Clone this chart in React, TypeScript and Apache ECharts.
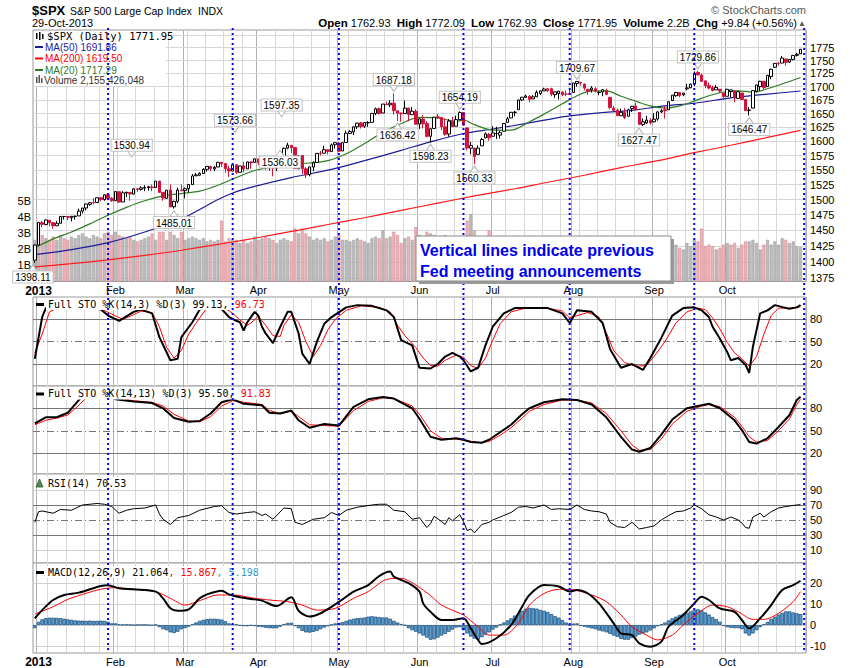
import { useEffect, useRef } from "react";
import * as echarts from "echarts";

// ---------- categories (trading days) ----------
const dec2012 = [31];
const janDays = [2,3,4,7,8,9,10,11,14,15,16,17,18,22,23,24,25,28,29,30,31];
const febDays = [1,4,5,6,7,8,11,12,13,14,15,19,20,21,22,25,26,27,28];
const marDays = [1,4,5,6,7,8,11,12,13,14,15,18,19,20,21,22,25,26,27,28];
const aprDays = [1,2,3,4,5,8,9,10,11,12,15,16,17,18,19,22,23,24,25,26,29,30];
const mayDays = [1,2,3,6,7,8,9,10,13,14,15,16,17,20,21,22,23,24,28,29,30,31];
const junDays = [3,4,5,6,7,10,11,12,13,14,17,18,19,20,21,24,25,26,27,28];
const julDays = [1,2,3,5,8,9,10,11,12,15,16,17,18,19,22,23,24,25,26,29,30,31];
const augDays = [1,2,5,6,7,8,9,12,13,14,15,16,19,20,21,22,23,26,27,28,29,30];
const sepDays = [3,4,5,6,9,10,11,12,13,16,17,18,19,20,23,24,25,26,27,30];
const octDays = [1,2,3,4,7,8,9,10,11,14,15,16,17,18,21,22,23,24,25,28,29,30];
const monthNames = ["Jan","Feb","Mar","Apr","May","Jun","Jul","Aug","Sep","Oct","Nov","Dec"];
const fedIdx = [20, 54, 83, 117, 146, 180, 210];

// ---------- price data ----------
const closes = [1426.19,1462.42,1459.37,1466.47,1461.89,1457.15,1461.02,1472.12,1472.05,1470.68,1472.34,1472.63,1480.94,1485.98,1492.56,1494.81,1494.82,1502.96,1500.18,1507.84,1501.96,1498.11,
1513.17,1495.71,1511.29,1512.12,1509.39,1517.93,1517.01,1519.43,1520.33,1521.38,1519.79,1530.94,1511.95,1502.42,1515.60,1487.85,1496.94,1515.99,1514.68,
1518.20,1525.20,1539.79,1541.46,1544.26,1551.18,1556.22,1552.48,1554.52,1563.23,1560.70,1552.10,1548.34,1558.71,1545.80,1556.89,1551.69,1563.77,1562.85,1569.19,
1562.17,1570.25,1553.69,1559.98,1553.28,1563.07,1568.61,1587.73,1593.37,1588.85,1552.36,1574.57,1552.01,1541.61,1555.25,1562.50,1578.78,1578.79,1585.16,1582.24,1593.61,1597.57,
1582.70,1597.59,1614.42,1617.50,1625.96,1632.69,1626.67,1633.70,1633.77,1650.34,1658.78,1650.47,1667.47,1666.29,1669.16,1655.35,1650.51,1649.60,1660.06,1648.36,1654.41,1630.74,
1640.42,1631.38,1608.90,1622.56,1643.38,1642.81,1626.13,1612.52,1636.36,1626.73,1639.04,1651.81,1628.93,1588.19,1592.43,1573.09,1588.03,1603.26,1613.20,1606.28,
1614.96,1614.08,1615.41,1631.89,1640.46,1652.32,1652.62,1675.02,1680.19,1682.50,1676.26,1680.91,1689.37,1692.09,1695.53,1692.39,1685.94,1690.25,1691.65,1685.33,1685.96,1685.73,
1706.87,1709.67,1707.14,1697.37,1690.91,1697.48,1691.42,1689.47,1694.16,1685.39,1661.32,1655.83,1646.06,1652.35,1642.80,1656.96,1663.50,1656.78,1630.48,1634.96,1638.17,1632.97,
1639.77,1653.08,1655.08,1655.17,1671.71,1683.99,1689.13,1683.42,1687.99,1697.60,1704.76,1725.52,1722.34,1709.91,1701.84,1697.42,1692.77,1698.67,1691.75,1681.55,
1695.00,1693.87,1678.66,1690.50,1676.12,1655.45,1656.40,1692.56,1703.20,1710.14,1698.06,1721.54,1733.15,1744.50,1744.66,1754.67,1746.38,1752.07,1759.77,1762.11,1771.95];
const opens = [1402.43,1426.19,1462,1459,1466,1462,1457,1461,1472,1472,1470,1472,1473,1481,1486,1492,1495,1495,1503,1500,1508,1502,
1498,1513,1496,1511,1512,1509,1518,1517,1519,1520,1521,1520,1531,1512,1502,1516,1488,1497,1516,
1515,1518,1525,1540,1541,1544,1551,1556,1552,1555,1563,1561,1552,1548,1559,1546,1557,1552,1564,1563,
1569,1562,1570,1554,1560,1553,1563,1569,1588,1593,1589,1552,1575,1552,1542,1555,1563,1579,1579,1585,1582,1594,
1597,1583,1598,1614,1617,1626,1633,1627,1633,1634,1650,1659,1651,1667,1666,1669,1655,1651,1650,1660,1648,1654,
1631,1640,1632,1609,1623,1644,1643,1626,1613,1636,1627,1639,1652,1624,1588,1588,1577,1592,1606,1612,
1609,1614,1611,1618,1634,1642,1652,1657,1675,1680,1682,1677,1681,1687,1692,1696,1696,1685,1687,1690,1686,1687,
1689,1706,1708,1705,1695,1694,1696,1689,1690,1693,1680,1660,1656,1646,1652,1645,1659,1664,1652,1630,1633,1638,
1635,1640,1653,1657,1657,1674,1683,1689,1685,1696,1698,1705,1727,1722,1711,1702,1698,1694,1695,1688,
1682,1691,1692,1678,1688,1676,1656,1660,1691,1700,1710,1700,1719,1737,1745,1745,1753,1747,1752,1760,1762.93];
const highs = [1427,1462.43,1465,1467,1466.5,1462.5,1465,1473,1473,1473,1473,1473.5,1485,1486,1493,1496,1502,1503,1504,1509,1510,1504,
1514,1513.5,1514,1513,1512,1519,1519,1522,1524,1523,1525,1530.94,1531,1512,1516,1525,1498,1520,1525,
1520,1526,1543,1545,1546,1553,1556.5,1557,1557,1563.5,1564,1561,1557,1561,1559,1557,1564,1564,1564,1570,
1570,1573.66,1571,1562,1560,1563.5,1573,1589,1597.35,1593.5,1589,1575,1575,1555,1555.5,1565,1579,1583,1592,1585.5,1596,1598,
1598,1598,1619,1620,1626.5,1633,1635,1634,1636,1651,1661,1661,1667.5,1672,1675,1687.18,1655.5,1651.5,1674,1660.5,1662,1658,
1641,1647,1636,1623,1644,1649,1643,1641,1640,1644,1646,1654.19,1652.5,1624,1599,1588.5,1593,1606,1616,1615,
1627,1626,1619,1632,1644,1653,1655,1676,1680.5,1685,1684,1684,1693,1692.5,1698,1696.5,1698,1691,1692,1690.5,1693,1698,
1707,1709.67,1709,1705.5,1696,1701,1699,1691,1696,1696,1680,1664,1659,1659,1660,1659,1664,1670,1652.5,1641,1646,1641,
1651,1654,1658,1664,1672,1684,1690,1690,1688,1705,1706,1729,1729.86,1725,1711,1708,1702,1703,1695.5,1688.5,
1696,1694,1692.5,1691,1688.5,1677,1662,1693,1704,1711,1711,1721.5,1734,1745,1747,1759,1753.5,1753,1760,1765,1772.09];
const lows = [1398.11,1426,1455,1458,1456,1452,1457,1461,1467,1466,1464,1467,1473,1477,1482,1490,1492,1495,1497,1498,1499,1496,
1498,1495,1496,1504,1498,1509,1513,1515,1514,1515,1514,1520,1511,1498,1502,1487.5,1485.01,1494,1514,
1502,1512,1525,1540,1540,1544,1547,1548,1548,1555,1555,1545,1538,1548,1543,1546,1546,1552,1552,1563,
1558,1562,1550,1549,1539,1548,1556,1569,1586,1579,1552,1552,1543,1536.03,1539,1548,1563,1575,1579,1577,1582,1587,
1581,1583,1598,1613,1611,1622,1623,1624,1626,1634,1647,1648,1651,1666,1662,1648,1636.42,1635,1650,1636,1648,1630,
1622,1623,1607,1598.23,1623,1640,1620,1610,1608,1625,1627,1639,1628,1584,1577,1560.33,1577,1592,1606,1601,
1609,1604,1605,1618,1634,1642,1645,1657,1673,1679,1671,1677,1681,1684,1692,1690,1682,1679,1676,1682,1682,1685,
1689,1700,1702,1693,1685,1689,1689,1684,1682,1684,1658,1654,1646,1646,1640,1645,1653,1656,1629,1627.47,1631,1630,
1634,1637,1651,1641,1657,1674,1681,1680,1682,1693,1697,1701,1721,1709,1697,1695,1691,1694,1688,1675,
1682,1680,1671,1677,1675,1655,1646.47,1660,1689,1692,1695,1700,1714,1736,1740,1745,1740,1745,1750,1758,1762.93];
// volume, billions
const volumes = [2.6,3.2,2.9,2.7,2.6,2.8,2.6,2.9,2.7,2.6,2.8,2.7,2.9,3.0,2.8,2.7,2.9,2.8,2.7,3.0,3.1,2.9,
3.1,2.9,2.8,2.7,2.8,2.6,2.5,2.6,2.7,2.8,3.0,2.6,3.1,3.1,2.6,3.1,2.9,2.7,3.1,
2.6,2.7,2.8,2.7,2.6,2.7,2.5,2.6,2.5,2.6,3.8,2.5,2.7,2.6,2.6,2.4,2.6,2.4,2.5,2.8,
2.6,2.7,2.8,2.7,2.6,2.4,2.6,2.7,2.6,2.5,3.3,3.0,3.2,3.0,2.8,2.6,2.7,2.6,2.7,2.5,2.6,2.8,
2.9,2.6,2.6,2.5,2.6,2.7,2.6,2.5,2.4,2.7,2.8,2.7,3.2,2.7,2.8,3.1,2.9,2.4,2.7,2.8,2.6,3.4,
2.9,2.8,3.1,3.0,2.9,2.6,2.8,2.9,2.8,2.7,2.7,2.8,2.8,3.8,4.2,3.2,2.8,2.7,2.6,3.2,
2.3,2.5,1.7,2.0,2.5,2.3,2.4,2.5,2.3,2.2,2.3,2.4,2.4,2.5,2.2,2.4,2.5,2.4,2.3,2.2,2.4,2.6,
2.5,2.2,1.9,2.2,2.3,2.2,2.0,1.9,2.0,2.0,2.4,2.5,2.2,2.3,2.4,2.0,1.8,1.9,2.4,2.1,1.8,2.1,
2.4,2.3,2.0,2.1,2.1,2.6,2.3,2.1,2.0,2.4,2.2,2.6,2.5,3.3,2.2,2.3,2.2,2.0,2.1,2.3,
2.4,2.3,2.4,2.1,2.3,2.5,2.5,2.6,2.4,2.0,2.3,2.6,2.3,2.5,2.3,2.7,2.6,2.4,2.5,2.2,2.155];

// ---------- indicator readings [bar index, value] ----------
const ma200 = [[0,1392],[10,1397],[20,1403],[30,1410],[40,1418],[54,1431],[60,1437],[72,1450],[80,1459],[90,1470],[100,1482],[110,1494],[120,1506],[131,1518],[140,1529],[150,1541],[160,1554],[170,1566],[180,1580],[190,1593],[200,1607],[209,1619.5]];
const ma50 = [[0,1411],[10,1419],[20,1430],[30,1447],[40,1468],[50,1500],[54,1511],[60,1522],[70,1537],[81,1551],[90,1566],[100,1584],[108,1599],[117,1614],[125,1622],[135,1633],[145,1645],[155,1652],[163,1656],[172,1664],[180,1669],[190,1679],[200,1686],[209,1691.86]];
const ma20 = [[0,1422],[5,1436],[10,1447],[15,1460],[20,1474],[25,1487],[30,1498],[35,1506],[40,1510],[45,1514],[50,1524],[55,1537],[60,1549],[65,1556],[70,1561],[75,1562],[80,1566],[85,1578],[90,1596],[95,1616],[100,1632],[105,1643],[110,1642],[115,1636],[117,1638],[120,1630],[125,1620],[130,1620],[135,1635],[139,1649],[144,1668],[148,1683],[152,1692],[156,1692],[160,1682],[164,1673],[168,1664],[172,1660],[176,1664],[180,1673],[184,1683],[188,1690],[192,1692],[196,1690],[200,1696],[204,1705],[209,1717.29]];
const sto1K = [[0,27],[2,83],[3,95],[6,99],[10,96],[14,97],[18,93],[20,85],[23,78],[24,81],[27,90],[29,93],[32,88],[34,56],[37,25],[39,27],[40,56],[43,76],[45,93],[47,98],[50,99],[53,83],[55,78],[56,76],[57,65],[58,76],[60,90],[61,85],[62,70],[63,61],[65,48],[67,70],[69,90],[70,90],[72,61],[73,34],[75,20],[77,50],[79,74],[81,83],[85,96],[88,99],[92,98],[96,92],[98,83],[100,52],[103,45],[105,15],[108,14],[110,20],[112,30],[114,35],[116,30],[117,25],[119,10],[121,15],[123,45],[125,70],[128,88],[131,95],[135,95],[140,95],[144,88],[146,75],[148,92],[152,90],[155,75],[157,40],[160,15],[163,20],[166,12],[168,28],[171,55],[174,85],[177,95],[180,96],[182,92],[184,83],[185,70],[187,54],[189,36],[190,25],[192,28],[194,19],[195,8],[196,43],[198,88],[200,92],[202,99],[206,94],[208,96],[209,99.13]];
const sto1D = [[0,35],[2,60],[4,90],[7,97],[12,97],[18,94],[21,87],[24,80],[26,84],[29,91],[32,89],[34,70],[36,42],[38,28],[40,38],[42,60],[45,82],[47,95],[51,98],[54,88],[56,79],[58,72],[59,75],[61,84],[63,72],[65,58],[67,57],[68,72],[70,86],[72,76],[74,50],[76,30],[78,45],[80,66],[82,80],[85,92],[89,98],[94,96],[97,90],[99,72],[101,58],[104,42],[106,28],[108,18],[110,17],[112,25],[115,32],[117,29],[119,18],[121,14],[123,28],[125,52],[127,74],[130,90],[134,95],[140,95],[144,91],[146,82],[148,85],[151,89],[154,83],[156,62],[158,38],[161,22],[164,17],[167,18],[169,30],[172,50],[175,75],[178,90],[181,95],[183,93],[185,82],[187,67],[189,49],[191,35],[193,27],[195,17],[197,30],[199,60],[201,85],[203,95],[206,95],[209,96.73]];
const sto2K = [[0,60],[3,68],[6,68],[9,74],[12,91],[13,97],[16,99],[20,99],[22,92],[27,89],[32,87],[35,80],[38,67],[42,62],[45,63],[48,73],[51,88],[54,92],[57,86],[62,84],[64,74],[67,73],[70,77],[72,64],[75,54],[79,59],[83,57],[87,82],[91,92],[95,95],[98,93],[103,80],[105,66],[108,42],[111,38],[115,40],[117,38],[119,35],[122,34],[124,38],[127,48],[130,58],[133,72],[135,80],[139,88],[144,92],[148,91],[152,85],[156,68],[160,42],[163,25],[165,22],[168,27],[171,45],[174,65],[178,80],[182,84],[184,86],[187,80],[191,64],[193,51],[195,35],[197,33],[200,40],[203,55],[206,71],[208,91],[209,95.5]];
const sto2D = [[0,58],[3,64],[6,67],[9,71],[12,84],[14,94],[17,98],[22,95],[27,90],[32,88],[35,83],[38,72],[42,63],[45,62],[48,69],[51,83],[54,90],[57,88],[62,85],[64,77],[67,73],[70,76],[72,69],[75,58],[79,57],[83,56],[87,77],[91,89],[95,94],[98,93],[103,83],[105,72],[108,50],[111,40],[115,39],[119,36],[122,34],[124,36],[127,44],[130,54],[133,67],[135,76],[139,85],[144,91],[148,91],[152,87],[156,73],[160,50],[163,31],[165,24],[168,25],[171,39],[174,59],[178,76],[182,83],[184,85],[187,82],[191,68],[193,56],[195,42],[197,35],[200,37],[203,50],[206,66],[208,85],[209,91.83]];
const rsi14 = [[0,47],[1,61],[2,62],[5,59],[7,64],[10,63],[13,70],[17,72],[19,71],[21,68],[23,59],[25,63],[27,65],[30,66],[33,70],[34,58],[35,51],[37,44],[39,53],[42,56],[45,63],[49,68],[51,69],[53,60],[55,58],[58,60],[60,61],[62,56],[63,58],[65,51],[68,66],[70,65],[71,47],[73,44],[76,51],[79,53],[81,60],[83,56],[85,63],[88,67],[92,70],[94,71],[96,71],[98,63],[101,61],[103,51],[105,53],[107,40],[108,45],[109,55],[111,48],[112,44],[113,53],[114,49],[116,57],[117,48],[118,36],[119,38],[120,33],[122,44],[124,47],[125,50],[128,56],[130,60],[132,67],[134,68],[136,66],[139,70],[141,64],[143,65],[146,64],[148,70],[150,64],[152,62],[154,61],[156,58],[157,47],[159,41],[161,40],[163,47],[165,38],[167,40],[169,42],[171,50],[173,56],[175,61],[177,62],[179,66],[180,70],[182,65],[184,57],[186,54],[188,50],[190,54],[192,50],[193,46],[194,40],[195,39],[196,54],[198,59],[199,54],[201,61],[203,66],[205,68],[208,70],[209,70.53]];
const macdLine = [[0,3.2],[2,7.1],[5,11.9],[8,14.3],[12,15.4],[18,18.6],[20,18.9],[23,17.5],[27,17],[33,15.9],[35,12.7],[37,8],[39,6.8],[42,7.5],[45,12.7],[47,14.6],[51,16.3],[53,14.6],[56,13.2],[60,12.2],[62,11.6],[66,9],[70,13.2],[72,6.8],[75,4],[78,5.6],[82,9.8],[84,12.2],[87,15.9],[91,19],[94,23.3],[97,25.4],[98,23],[102,19.9],[105,15.9],[106,10.3],[108,6.3],[111,2.4],[114,2.4],[117,3.2],[119,-1.6],[121,-7.1],[122,-9],[126,-6.3],[130,0],[133,8.7],[135,14.3],[139,19],[143,18.3],[146,15.9],[148,16.7],[151,15],[154,10.3],[158,0.8],[160,-4],[163,-4.8],[165,-8.7],[168,-10.3],[171,-7.9],[173,-0.8],[177,4.8],[180,10.3],[182,13.5],[184,11.9],[187,7.9],[191,6.3],[193,2.4],[195,-1.6],[198,3.2],[201,9.5],[204,16.7],[207,19],[209,21.064]];
const macdSignal = [[0,5.2],[5,8.7],[9,12.2],[14,15.1],[18,17],[22,17.8],[27,17],[33,15.9],[37,12.7],[41,9.5],[45,11.6],[50,14.3],[54,14.3],[60,12.7],[64,11.9],[69,11.1],[73,9.5],[77,7.1],[82,7.9],[87,12.7],[91,15.9],[96,21.7],[100,22.2],[104,19],[108,14],[111,9.5],[115,6.3],[117,4.8],[121,-0.8],[124,-4.8],[128,-4.8],[132,0.8],[135,9.5],[139,15],[143,17],[147,16.7],[152,14.3],[156,11.1],[160,4.8],[163,-0.8],[167,-4.8],[170,-7.1],[174,-4.8],[177,0],[181,5.6],[185,9.5],[189,8.7],[192,6.3],[196,2.7],[199,2.7],[203,5.6],[207,11.1],[209,15.867]];
const macdHist = [-1.5,1.5,2.7,3.3,3.5,3.5,3.4,3.3,3.0,2.7,2.5,2.2,2.1,2.1,2.0,2.1,2.0,2.0,2.1,2.0,
1.6,0.8,0.8,0.2,0.1,0.2,0.1,-0.1,0.1,0.0,0.1,0.0,-0.2,0.1,-1.0,-2.0,-2.5,-3.5,-3.8,-3.2,
-2.0,-1.5,-0.8,0.5,1.2,2.0,2.5,2.8,3.0,3.0,2.9,2.6,1.8,0.8,0.5,0.3,-0.3,-0.5,-0.6,-0.3,
-0.5,-0.8,-1.0,-1.3,-1.5,-1.6,-1.5,-0.8,0.5,1.0,1.1,-0.5,-1.5,-2.8,-3.5,-3.6,-3.3,-2.8,-2.0,-1.2,
-0.6,0.2,0.8,1.0,1.4,2.0,2.6,3.0,3.3,3.4,3.6,4.0,4.2,4.0,3.8,3.6,3.6,3.0,2.0,1.2,
0.5,-0.2,-1.5,-2.5,-3.2,-4.0,-5.0,-6.0,-7.0,-6.8,-6.0,-5.0,-4.2,-3.2,-2.2,-1.2,-1.0,-2.5,-4.0,-5.5,
-6.5,-7.0,-5.8,-4.6,-3.5,-2.2,-1.2,0.2,1.2,2.2,3.2,4.5,5.5,6.8,7.8,8.2,8.0,7.8,7.2,6.8,
6.2,5.2,4.2,3.5,2.4,1.2,0.0,0.7,0.8,-0.4,-0.8,-1.2,-1.6,-2.0,-2.6,-3.0,-3.5,-4.2,-5.0,-5.6,
-6.6,-7.0,-7.0,-6.2,-5.5,-4.6,-4.0,-3.5,-2.6,-1.6,-0.6,0.4,1.2,2.2,3.2,4.0,4.8,5.4,5.8,6.5,
7.2,7.5,7.0,6.0,5.0,3.8,2.8,1.6,-0.5,-1.0,-1.4,-1.5,-1.5,-2.0,-4.0,-5.0,-4.0,-2.5,-1.0,0.5,
1.5,3.0,4.0,5.0,5.8,6.5,6.5,6.0,5.6,5.198];

// ---------- annotations: [bar index, price, label dx, label dy] ----------
const highNotes = [[33,1530.94,-24,-22],[62,1573.66,-27,-22],[69,1597.35,-6,-24],[98,1687.18,0,0],[116,1654.19,0,0],[148,1709.67,0,0],[181,1729.86,0,0]];
const lowNotes = [[0,1398.11,-2,0],[38,1485.01,0,0],[74,1536.03,-26,-30],[99,1636.42,0,0],[108,1598.23,0,0],[120,1560.33,0,0],[166,1627.47,-4,0],[195,1646.47,0,0]];

// ---------- tick labels ----------
const priceTicks = [1375,1400,1425,1450,1475,1500,1525,1550,1575,1600,1625,1650,1675,1700,1725,1750,1775];
const rsiTicks = [90, 70, 50, 30, 10];
const macdTicks = [20, 10, 0, -10];

const SANS = "Liberation Sans";
const MONO = "DejaVu Sans Mono";

function buildDates() {
  const out: { y: number; m: number; d: number }[] = [];
  dec2012.forEach((d) => out.push({ y: 2012, m: 12, d }));
  const months = [janDays, febDays, marDays, aprDays, mayDays, junDays, julDays, augDays, sepDays, octDays];
  months.forEach((arr, mi) => arr.forEach((d) => out.push({ y: 2013, m: mi + 1, d })));
  return out;
}

export default function App() {
  const ref = useRef<HTMLDivElement>(null);
  useEffect(() => {
    document.body.style.margin = "0";
    const dts = buildDates();
    const cats = dts.map((t) => `${t.y}-${String(t.m).padStart(2, "0")}-${String(t.d).padStart(2, "0")}`);
    const monthStart = dts.map((t, i) => i > 0 && t.m !== dts[i - 1].m);
    const wd = dts.map((t) => new Date(Date.UTC(t.y, t.m - 1, t.d)).getUTCDay());
    const weekStart = dts.map((t, i) => i > 0 && wd[i] < wd[i - 1]);
    const labelOf = (i: number) => {
      const t = dts[i];
      if (!monthStart[i]) return "";
      if (t.m === 1) return "{y|2013}";
      return monthNames[t.m - 1];
    };

    const chart = echarts.init(ref.current!, null, { renderer: "svg" });
    const L = 33, R = 44;
    const grids = [
      { top: 30, height: 251.5 },
      { top: 297, height: 89 },
      { top: 386, height: 88 },
      { top: 474, height: 89 },
      { top: 563, height: 90 },
    ];
    const xAxes: any[] = [];
    grids.forEach((_, gi) => {
      const showLabels = gi === 0 || gi === 4;
      xAxes.push({
        type: "category", gridIndex: gi, data: cats, boundaryGap: true,
        axisLine: { show: false }, axisTick: { show: false },
        axisLabel: showLabels ? {
          show: true, interval: (i: number) => monthStart[i] && i < 210, formatter: (_v: string, i: number) => labelOf(i),
          color: "#000", fontSize: 11, fontFamily: SANS, margin: 3,
          rich: { y: { fontWeight: "bold", fontSize: 12, fontFamily: SANS, color: "#000" } },
        } : { show: false },
        splitLine: { show: true, interval: (i: number) => weekStart[i] && !monthStart[i], lineStyle: { color: "#d9d9d9", width: 1 } },
      });
      xAxes.push({
        type: "category", gridIndex: gi, data: cats, boundaryGap: true,
        axisLine: { show: false }, axisTick: { show: false }, axisLabel: { show: false },
        splitLine: { show: true, interval: (i: number) => monthStart[i], lineStyle: { color: "#b0b0b0", width: 1 } },
      });
    });
    const hidden = { axisLine: { show: false }, axisTick: { show: false }, axisLabel: { show: false }, splitLine: { show: false } };
    const yAxes: any[] = [
      { type: "log", logBase: 10, gridIndex: 0, min: 1369.7, max: 1810.2, position: "right", ...hidden },
      {
        type: "value", gridIndex: 0, min: 0, max: 15.69, interval: 1, position: "left",
        axisLine: { show: false }, axisTick: { show: false }, splitLine: { show: false },
        axisLabel: { show: true, formatter: (v: number) => (v > 0 && v <= 5 ? `${v}B` : ""), color: "#000", fontSize: 11, fontFamily: SANS, margin: 2 },
      },
      { type: "value", gridIndex: 1, min: -9.5, max: 109.9, position: "right", ...hidden },
      { type: "value", gridIndex: 2, min: -7.6, max: 109.7, position: "right", ...hidden },
      { type: "value", gridIndex: 3, min: -7.3, max: 111.3, position: "right", ...hidden },
      { type: "value", gridIndex: 4, min: -13.3, max: 29.5, position: "right", ...hidden },
    ];

    const lbl = { show: true, position: "end", distance: 4, color: "#000", fontSize: 11, fontFamily: SANS, formatter: "{c}" };
    const dark = { color: "#777", width: 1, type: "solid" };
    const dashDot = { color: "#777", width: 1, type: [7, 3, 1, 3] };
    const light = { color: "#d0d0d0", width: 1, type: "solid" };
    const ml = (items: any[]) => ({ silent: true, symbol: ["none", "none"], z: 1, animation: false, label: lbl, emphasis: { disabled: true }, data: items });

    const candleData = closes.map((c, i) => [opens[i], c, lows[i], highs[i]]);
    const volData = volumes.map((v, i) => {
      const down = i > 0 && closes[i] < closes[i - 1];
      return { value: v, itemStyle: { color: down ? "#eab5ba" : "#bdbdbd", borderColor: down ? "#d8868e" : "#9c9c9c", borderWidth: 0.6 } };
    });
    const noteLabel = (v: number, pos: string) => ({
      show: true, position: pos, distance: 0, formatter: v.toFixed(2), color: "#000", fontSize: 10, fontFamily: SANS,
      backgroundColor: "#fff", borderColor: "#c4c4c4", borderWidth: 1, padding: [1, 2, 0, 2],
    });
    const notes: any[] = [];
    highNotes.forEach(([i, v, dx, dy]) => notes.push({
      coord: [i, v], value: v, symbol: "path://M0,0L4,6L8,0", symbolSize: [8, 6], symbolOffset: [dx, -5 + dy],
      itemStyle: { color: "#fff", borderColor: "#b8b8b8", borderWidth: 1 },
      label: noteLabel(v, "top"),
    }));
    lowNotes.forEach(([i, v, dx, dy]) => notes.push({
      coord: [i, v], value: v, symbol: "path://M0,6L4,0L8,6", symbolSize: [8, 6], symbolOffset: [dx, 5 + dy],
      itemStyle: { color: "#fff", borderColor: "#b8b8b8", borderWidth: 1 },
      label: noteLabel(v, "bottom"),
    }));

    const line = (data: any, xi: number, yi: number, color: string, width: number, z = 3, smooth: any = false) => ({
      type: "line", xAxisIndex: xi, yAxisIndex: yi, data, symbol: "none", smooth, z,
      lineStyle: { color, width }, silent: true, animation: false,
    });

    const series: any[] = [
      { type: "bar", xAxisIndex: 0, yAxisIndex: 1, data: volData, barWidth: 3, z: 2, silent: true },
      line(ma200, 0, 0, "#ff1a1a", 1.2, 3, 0.3),
      line(ma50, 0, 0, "#1c1c9a", 1.2, 3, 0.3),
      line(ma20, 0, 0, "#2f7a24", 1.2, 3, 0.3),
      {
        type: "candlestick", xAxisIndex: 0, yAxisIndex: 0, data: candleData, barWidth: 3, z: 4, silent: true,
        itemStyle: { color: "#ffffff", color0: "#d2143c", borderColor: "#000000", borderColor0: "#d2143c", borderWidth: 1 },
        markLine: ml([
          ...priceTicks.map((v) => ({ yAxis: v, lineStyle: { color: "#d6d6d6", width: 1, type: "solid" } })),
          { yAxis: 1800, lineStyle: { color: "#d6d6d6", width: 1, type: "solid" }, label: { show: false } },
        ]),
        markPoint: { silent: true, animation: false, data: notes },
      },
      { ...line(sto1D, 2, 2, "#ff0000", 1, 3), markLine: ml([{ yAxis: 80, lineStyle: dark }, { yAxis: 50, lineStyle: dashDot }, { yAxis: 20, lineStyle: dark }]) },
      line(sto1K, 2, 2, "#000000", 2, 4),
      { ...line(sto2D, 4, 3, "#ff0000", 1, 3), markLine: ml([{ yAxis: 80, lineStyle: dark }, { yAxis: 50, lineStyle: dashDot }, { yAxis: 20, lineStyle: dark }]) },
      line(sto2K, 4, 3, "#000000", 2, 4),
      { ...line(rsi14, 6, 4, "#000000", 1, 3), markLine: ml(rsiTicks.map((v) => ({ yAxis: v, lineStyle: v === 50 ? dashDot : (v === 70 || v === 30 ? dark : light) }))) },
      {
        type: "bar", xAxisIndex: 8, yAxisIndex: 5, data: macdHist, barCategoryGap: "0%", z: 2, silent: true,
        itemStyle: { color: "#5a9fd0", borderColor: "#22527e", borderWidth: 0.8 },
        markLine: ml(macdTicks.map((v) => ({ yAxis: v, lineStyle: light }))),
      },
      line(macdSignal, 8, 5, "#ff0000", 1, 3, 0.3),
      line(macdLine, 8, 5, "#000000", 2, 4, 0.3),
    ];

    chart.setOption({
      animation: false,
      backgroundColor: "#ffffff",
      textStyle: { fontFamily: SANS },
      grid: grids.map((g) => ({ left: L, right: R, top: g.top, height: g.height, show: true, borderColor: "#999", borderWidth: 1, backgroundColor: "#fff", containLabel: false, outerBoundsMode: "none" })),
      xAxis: xAxes,
      yAxis: yAxes,
      series,
    });

    // ---------- graphic overlays ----------
    const txt = (x: number, y: number, text: string, o: any = {}) => ({
      type: "text", x, y, z: o.z ?? 40, silent: true,
      style: {
        text, fill: o.fill ?? "#000", fontSize: o.size ?? 11, fontFamily: o.family ?? SANS, fontWeight: o.weight ?? "normal",
        textAlign: o.align ?? "left", textVerticalAlign: "middle", align: o.align ?? "left", verticalAlign: "middle",
        backgroundColor: o.bg, padding: o.bg ? [1, 2, 1, 2] : 0, rich: o.rich,
      },
    });
    const rect = (x: number, y: number, w: number, h: number, fill: string, z = 41, stroke?: string) => ({
      type: "rect", z, silent: true, shape: { x, y, width: w, height: h }, style: { fill, stroke, lineWidth: stroke ? 1 : 0 },
    });
    const g: any[] = [];
    g.push(txt(32, 10, "$SPX", { size: 13, weight: "bold" }));
    g.push(txt(70, 11, "S&P 500 Large Cap Index", { size: 10.5 }));
    g.push(txt(198, 11, "INDX", { size: 10.5 }));
    g.push(txt(32, 23, "29-Oct-2013", { size: 11 }));
    g.push(txt(806, 10, "© StockCharts.com", { size: 11, fill: "#555", align: "right" }));
    g.push(txt(797, 23, "{b|Open} 1762.93  {b|High} 1772.09  {b|Low} 1762.93  {b|Close} 1771.95  {b|Volume} 2.2B  {b|Chg} +9.84 (+0.56%)", {
      size: 11, align: "right", rich: { b: { fontWeight: "bold", fontSize: 11.5, fontFamily: SANS, fill: "#000" } },
    }));
    g.push(txt(802, 23, "▲", { size: 8, fill: "#555", align: "center" }));
    // price legend
    g.push(rect(34, 31, 132, 55, "#ffffff", 39));
    g.push(rect(36, 33, 1.5, 6, "#000", 41));
    g.push(rect(39, 32, 1.5, 8, "#000", 41));
    g.push(rect(42, 34, 1.5, 5, "#000", 41));
    g.push(txt(47, 36, "$SPX (Daily) 1771.95", { size: 10.5, family: MONO }));
    g.push(rect(35, 46, 8, 2, "#1c1c9a")); g.push(txt(45, 47, "MA(50) 1691.86", { size: 10, fill: "#1c1c9a" }));
    g.push(rect(35, 57.5, 8, 2, "#ff0000")); g.push(txt(45, 58.5, "MA(200) 1619.50", { size: 10, fill: "#ff0000" }));
    g.push(rect(35, 69, 8, 2, "#2f7a24")); g.push(txt(45, 70, "MA(20) 1717.29", { size: 10, fill: "#2f7a24" }));
    g.push(rect(36, 77, 1.5, 6, "#555")); g.push(rect(38.5, 75, 1.5, 8, "#555")); g.push(rect(41, 78, 1.5, 5, "#555"));
    g.push(txt(44, 80, "Volume 2,155,426,048", { size: 10, fill: "#333" }));
    // panel legends
    const panelLegend = (y: number, rich: string, richStyles: any, icon: boolean) => {
      if (icon) g.push(rect(36, y - 1, 8, 3, "#000", 42));
      g.push(txt(46, y, rich, { size: 10, family: MONO, bg: "#ffffff", rich: richStyles }));
    };
    const monoRich = (c: string) => ({ fill: c, fontSize: 10, fontFamily: MONO });
    panelLegend(304, "Full STO %K(14,3) %D(3) 99.13, {r|96.73}", { r: monoRich("#ff0000") }, true);
    panelLegend(393.5, "Full STO %K(14,13) %D(3) 95.50, {r|91.83}", { r: monoRich("#ff0000") }, true);
    panelLegend(483, "RSI(14) 70.53", {}, false);
    g.push({ type: "polygon", z: 42, silent: true, shape: { points: [[36, 487], [39.5, 479], [43, 487]] }, style: { fill: "#4f8a4f", stroke: "#2c5a2c", lineWidth: 0.8 } });
    panelLegend(572, "MACD(12,26,9) 21.064{r|, 15.867}{b|, 5.198}", { r: monoRich("#ff0000"), b: monoRich("#3399cc") }, true);
    // Fed meeting lines
    fedIdx.forEach((i) => {
      const x = chart.convertToPixel({ xAxisIndex: 0 }, i) as number;
      g.push({ type: "line", z: 50, silent: true, shape: { x1: x, y1: 28, x2: x, y2: 653 }, style: { stroke: "#0000ff", lineWidth: 2, lineDash: [2, 3] } });
    });
    // note box
    g.push(rect(419, 239, 255, 45, "#9a9a9a", 59));
    g.push(rect(416, 236, 255, 45, "#ffffff", 60, "#8a8a8a"));
    g.push(txt(420, 250, "Vertical lines indicate previous", { size: 16, weight: "bold", fill: "#0000ee", z: 61 }));
    g.push(txt(420, 271, "Fed meeting announcements", { size: 16, weight: "bold", fill: "#0000ee", z: 61 }));

    chart.setOption({ graphic: g });
    return () => chart.dispose();
  }, []);
  return <div ref={ref} style={{ width: 850, height: 668 }} />;
}
